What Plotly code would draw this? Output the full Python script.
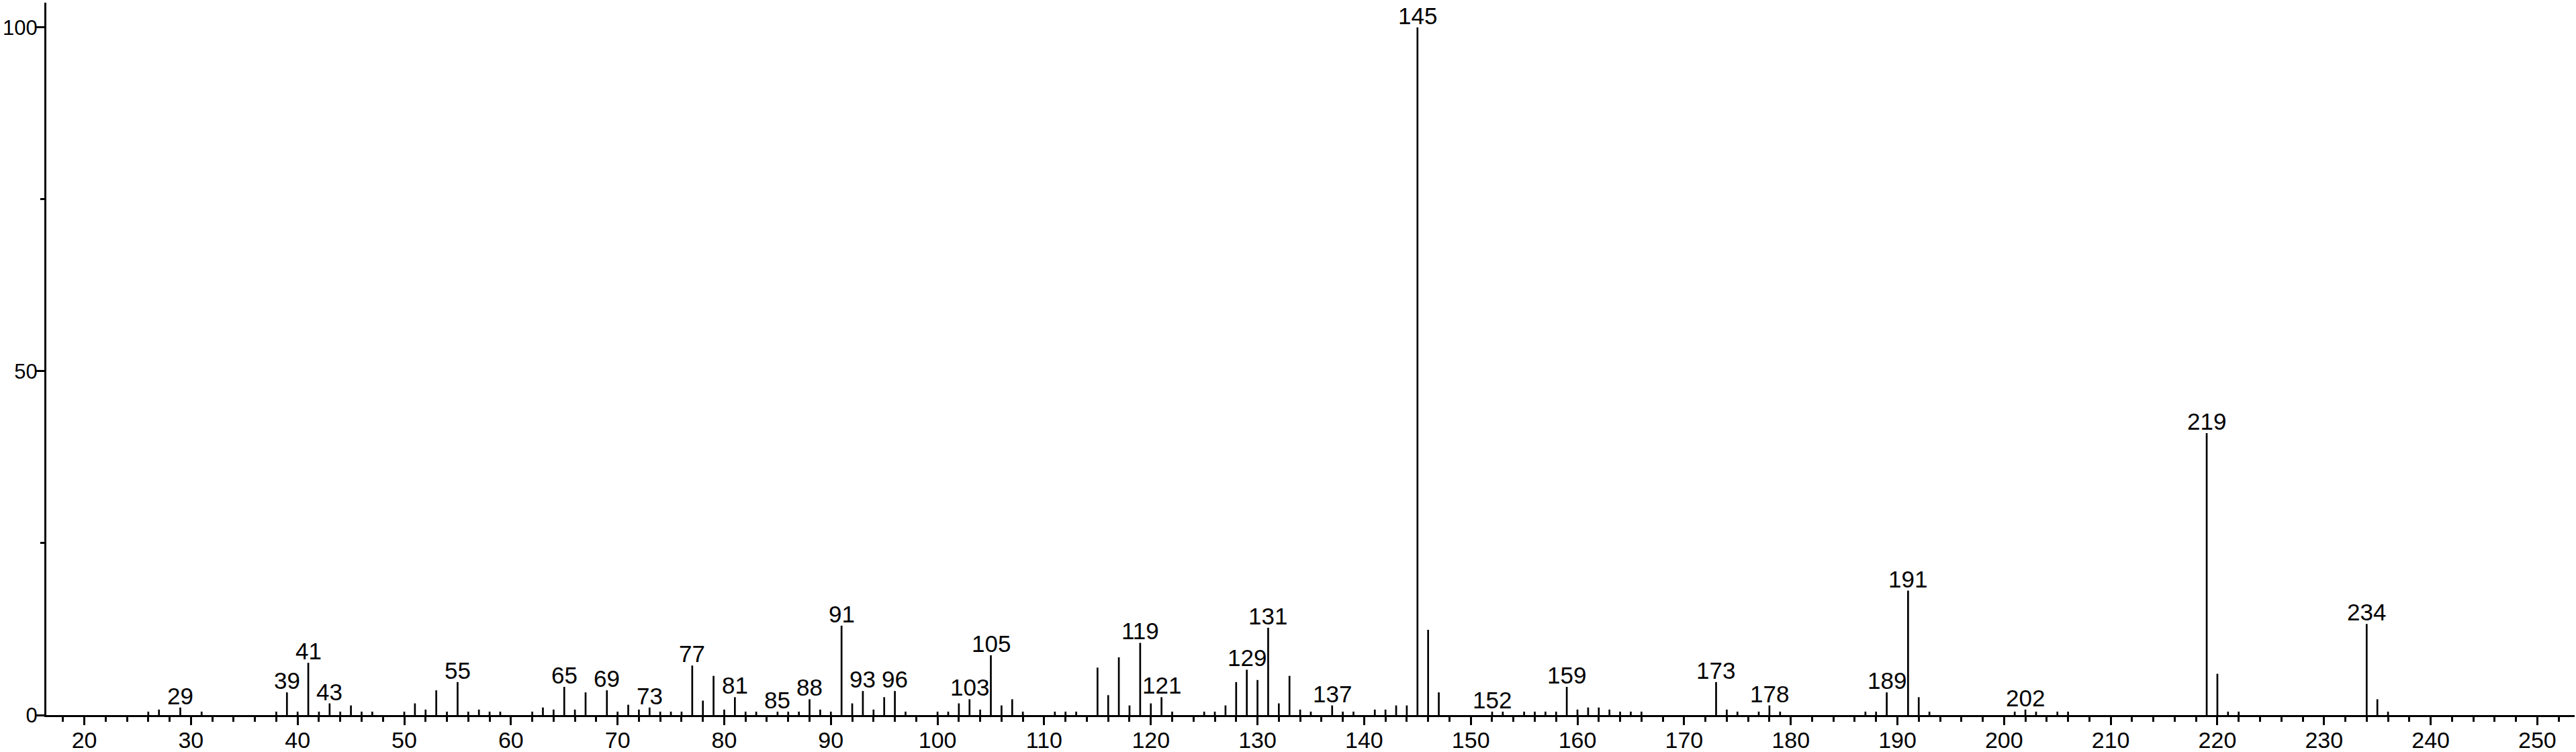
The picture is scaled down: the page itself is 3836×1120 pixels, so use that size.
import plotly.graph_objects as go

# m/z values and relative intensities
mz = [26, 27, 29, 31, 38, 39, 40, 41, 42, 43, 44, 45, 46, 47, 50, 51, 52, 53, 54, 55,
      56, 57, 58, 59, 62, 63, 64, 65, 66, 67, 69, 70, 71, 72, 73, 74, 75, 76, 77, 78,
      79, 80, 81, 82, 83, 85, 86, 87, 88, 89, 90, 91, 92, 93, 94, 95, 96, 97, 100, 101,
      102, 103, 104, 105, 106, 107, 108, 111, 112, 113, 115, 116, 117, 118, 119, 120, 121, 122, 125, 126,
      127, 128, 129, 130, 131, 132, 133, 134, 135, 137, 138, 139, 141, 142, 143, 144, 145, 146, 147, 152,
      153, 155, 156, 157, 158, 159, 160, 161, 162, 163, 164, 165, 166, 173, 174, 175, 177, 178, 179, 187,
      188, 189, 191, 192, 193, 201, 202, 203, 205, 206, 219, 220, 221, 222, 234, 235, 236]
intensity = [0.5, 0.8, 1.1, 0.5, 0.5, 3.3, 0.5, 7.6, 0.5, 1.7, 0.5, 1.4, 0.5, 0.5, 0.5, 1.7, 0.8, 3.6, 0.5, 4.8,
             0.5, 0.8, 0.5, 0.5, 0.5, 1.1, 0.8, 4.1, 0.8, 3.3, 3.6, 0.5, 1.5, 0.8, 1.1, 0.5, 0.5, 0.5, 7.2, 2.1,
             5.7, 0.8, 2.6, 0.5, 0.5, 0.5, 0.5, 0.5, 2.3, 0.8, 0.5, 13.0, 1.7, 3.5, 0.8, 2.6, 3.5, 0.5, 0.5, 0.5,
             1.7, 2.3, 0.8, 8.7, 1.4, 2.3, 0.5, 0.5, 0.5, 0.5, 6.9, 2.9, 8.4, 1.4, 10.5, 1.7, 2.6, 0.5, 0.5, 0.5,
             1.4, 4.8, 6.6, 5.1, 12.7, 1.7, 5.7, 0.8, 0.5, 1.4, 0.5, 0.5, 0.8, 0.8, 1.4, 1.4, 100.0, 12.4, 3.3, 0.5,
             0.5, 0.5, 0.5, 0.5, 0.5, 4.1, 0.8, 1.1, 1.1, 0.8, 0.5, 0.5, 0.5, 4.8, 0.8, 0.5, 0.5, 1.4, 0.5, 0.5,
             0.5, 3.3, 18.1, 2.6, 0.5, 0.5, 0.8, 0.5, 0.5, 0.5, 41.0, 6.0, 0.5, 0.5, 13.25, 2.3, 0.5]

labeled_mz = [29, 39, 41, 43, 55, 65, 69, 73, 77, 81, 85, 88, 91, 93, 96, 103, 105, 119, 121,
              129, 131, 137, 145, 152, 159, 173, 178, 189, 191, 202, 219, 234]

x_range = [16.44, 253.5]
y_range = [0, 103.6]
y_tick_vals = [0, 50, 100]

FONT = "Liberation Sans, Arial, Helvetica, sans-serif"
FS_LABEL = 35
FS_TICK = 34
FS_YTICK = 31

xs, ys = [], []
for m, h in zip(mz, intensity):
    xs += [m, m, None]
    ys += [0, h, None]

fig = go.Figure()
fig.add_trace(go.Scatter(x=xs, y=ys, mode="lines",
                         line=dict(color="black", width=2.7),
                         hoverinfo="skip", showlegend=False))

lookup = dict(zip(mz, intensity))
for m in labeled_mz:
    fig.add_annotation(x=m, y=lookup[m], text=str(m), showarrow=False,
                       xanchor="center", yanchor="bottom", yshift=-4,
                       font=dict(family=FONT, size=FS_LABEL, color="black"))

fig.update_layout(
    width=3836, height=1120,
    margin=dict(l=69, r=2, t=4, b=55, autoexpand=False),
    paper_bgcolor="white", plot_bgcolor="white",
    font=dict(family=FONT, size=FS_TICK, color="black"),
    showlegend=False,
)
fig.update_xaxes(
    range=x_range, tickmode="linear", tick0=0, dtick=10, automargin=False,
    ticks="outside", ticklen=12, tickwidth=3, tickcolor="black",
    showline=True, linewidth=3, linecolor="black",
    showgrid=False, zeroline=False, ticklabelstandoff=-7,
    tickfont=dict(family=FONT, size=FS_TICK, color="black"),
    minor=dict(dtick=2, tick0=0, ticks="outside", ticklen=7, tickwidth=2.5,
               tickcolor="black", showgrid=False),
)
fig.update_yaxes(
    range=y_range, tickmode="array", tickvals=y_tick_vals, automargin=False,
    ticks="outside", ticklen=12, tickwidth=3, tickcolor="black",
    showline=True, linewidth=3, linecolor="black",
    showgrid=False, zeroline=False, ticklabelstandoff=-8,
    tickfont=dict(family=FONT, size=FS_YTICK, color="black"),
    minor=dict(tickvals=[25, 75], ticks="outside", ticklen=6, tickwidth=2.5,
               tickcolor="black", showgrid=False),
)

# remove the default page margin so the figure fills the window exactly
fig.write_html("out.html", config={"displayModeBar": False},
               post_script="document.body.style.margin='0';")
